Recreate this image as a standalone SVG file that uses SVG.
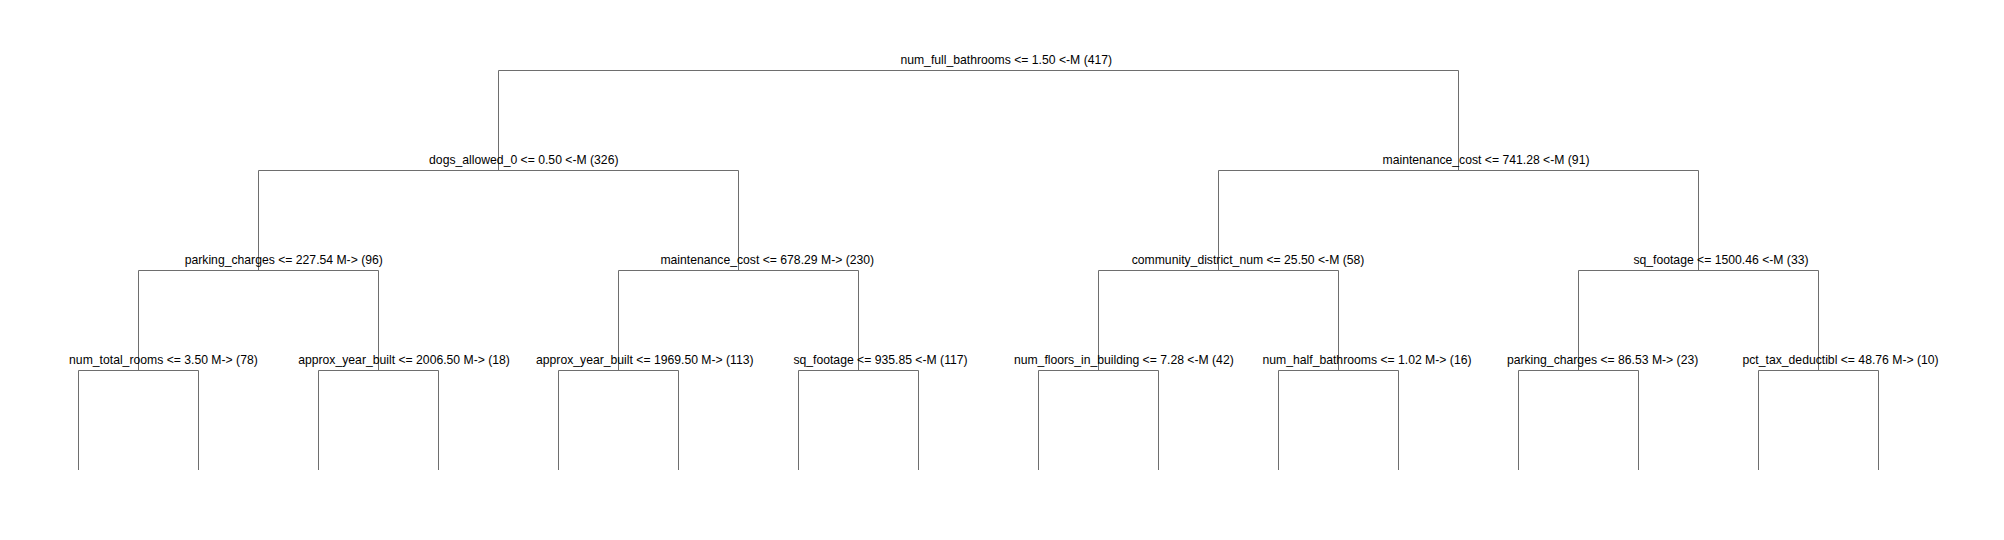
<svg xmlns="http://www.w3.org/2000/svg" width="2004" height="540" viewBox="0 0 2004 540">
<style>
.c{fill:none;stroke:#6e6e6e;stroke-width:1}
.t{font-family:"Liberation Sans",Arial,sans-serif;font-size:12.2px;fill:#000}
</style>
<rect width="2004" height="540" fill="#fff"/>
<g id="connectors" class="c">
<path d="M498.5 170V70.5H1458.5V170"/>
<path d="M258.5 270V170.5H738.5V270"/>
<path d="M1218.5 270V170.5H1698.5V270"/>
<path d="M138.5 370V270.5H378.5V370"/>
<path d="M618.5 370V270.5H858.5V370"/>
<path d="M1098.5 370V270.5H1338.5V370"/>
<path d="M1578.5 370V270.5H1818.5V370"/>
<path d="M78.5 470V370.5H198.5V470"/>
<path d="M318.5 470V370.5H438.5V470"/>
<path d="M558.5 470V370.5H678.5V470"/>
<path d="M798.5 470V370.5H918.5V470"/>
<path d="M1038.5 470V370.5H1158.5V470"/>
<path d="M1278.5 470V370.5H1398.5V470"/>
<path d="M1518.5 470V370.5H1638.5V470"/>
<path d="M1758.5 470V370.5H1878.5V470"/>
</g>
<g id="n1"><text class="t" x="900.4" y="64">num_full_bathrooms &lt;= 1.50 &lt;-M (417)</text></g>
<g id="n2"><text class="t" x="429.1" y="164">dogs_allowed_0 &lt;= 0.50 &lt;-M (326)</text></g>
<g id="n3"><text class="t" x="1382.5" y="164">maintenance_cost &lt;= 741.28 &lt;-M (91)</text></g>
<g id="n4"><text class="t" x="184.7" y="264">parking_charges &lt;= 227.54 M-&gt; (96)</text></g>
<g id="n5"><text class="t" x="660.4" y="264">maintenance_cost &lt;= 678.29 M-&gt; (230)</text></g>
<g id="n6"><text class="t" x="1131.7" y="264">community_district_num &lt;= 25.50 &lt;-M (58)</text></g>
<g id="n7"><text class="t" x="1633.4" y="264">sq_footage &lt;= 1500.46 &lt;-M (33)</text></g>
<g id="n8"><text class="t" x="69.1" y="364">num_total_rooms &lt;= 3.50 M-&gt; (78)</text></g>
<g id="n9"><text class="t" x="298.2" y="364">approx_year_built &lt;= 2006.50 M-&gt; (18)</text></g>
<g id="n10"><text class="t" x="536" y="364">approx_year_built &lt;= 1969.50 M-&gt; (113)</text></g>
<g id="n11"><text class="t" x="793.4" y="364">sq_footage &lt;= 935.85 &lt;-M (117)</text></g>
<g id="n12"><text class="t" x="1013.9" y="364">num_floors_in_building &lt;= 7.28 &lt;-M (42)</text></g>
<g id="n13"><text class="t" x="1262.5" y="364">num_half_bathrooms &lt;= 1.02 M-&gt; (16)</text></g>
<g id="n14"><text class="t" x="1506.9" y="364">parking_charges &lt;= 86.53 M-&gt; (23)</text></g>
<g id="n15"><text class="t" x="1742.5" y="364">pct_tax_deductibl &lt;= 48.76 M-&gt; (10)</text></g>
</svg>
